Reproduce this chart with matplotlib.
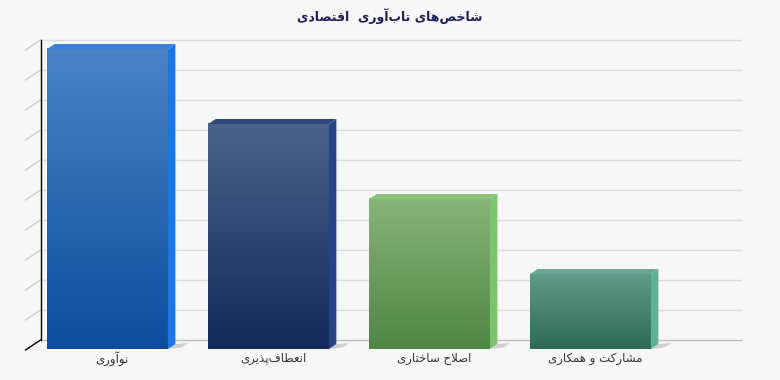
import numpy as np
import matplotlib.pyplot as plt
from matplotlib.patches import Polygon
from matplotlib.colors import LinearSegmentedColormap

# data
categories = ['نوآوری', 'انعطاف‌پذیری', 'اصلاح ساختاری', 'مشارکت و همکاری']
values = [10.0, 7.5, 5.0, 2.5]
title = 'شاخص‌های تاب‌آوری  اقتصادی'

grad_top = ['#4a84c6', '#4b6288', '#88b47a', '#609a88']
grad_bot = ['#0b4c9c', '#12295a', '#4f8644', '#2d6b56']
side_col = ['#1c78e0', '#24448a', '#7cc46e', '#5db394']
topf_col = ['#3c80d4', '#2f4a78', '#8cc47c', '#6aa895']


# --- tiny persian shaper (matplotlib has no complex text layout) ---
FORMS = {
    'ا': ('\uFE8D', '\uFE8E', None, None),
    'آ': ('\uFE81', '\uFE82', None, None),
    'ب': ('\uFE8F', '\uFE90', '\uFE91', '\uFE92'),
    'پ': ('\uFB56', '\uFB57', '\uFB58', '\uFB59'),
    'ت': ('\uFE95', '\uFE96', '\uFE97', '\uFE98'),
    'ح': ('\uFEA1', '\uFEA2', '\uFEA3', '\uFEA4'),
    'خ': ('\uFEA5', '\uFEA6', '\uFEA7', '\uFEA8'),
    'د': ('\uFEA9', '\uFEAA', None, None),
    'ذ': ('\uFEAB', '\uFEAC', None, None),
    'ر': ('\uFEAD', '\uFEAE', None, None),
    'س': ('\uFEB1', '\uFEB2', '\uFEB3', '\uFEB4'),
    'ش': ('\uFEB5', '\uFEB6', '\uFEB7', '\uFEB8'),
    'ص': ('\uFEB9', '\uFEBA', '\uFEBB', '\uFEBC'),
    'ط': ('\uFEC1', '\uFEC2', '\uFEC3', '\uFEC4'),
    'ع': ('\uFEC9', '\uFECA', '\uFECB', '\uFECC'),
    'ف': ('\uFED1', '\uFED2', '\uFED3', '\uFED4'),
    'ق': ('\uFED5', '\uFED6', '\uFED7', '\uFED8'),
    'ک': ('\uFB8E', '\uFB8F', '\uFB90', '\uFB91'),
    'ل': ('\uFEDD', '\uFEDE', '\uFEDF', '\uFEE0'),
    'م': ('\uFEE1', '\uFEE2', '\uFEE3', '\uFEE4'),
    'ن': ('\uFEE5', '\uFEE6', '\uFEE7', '\uFEE8'),
    'ه': ('\uFEE9', '\uFEEA', '\uFEEB', '\uFEEC'),
    'و': ('\uFEED', '\uFEEE', None, None),
    'ی': ('\uFBFC', '\uFBFD', '\uFBFE', '\uFBFF'),
}
LAMALEF = {'ا': ('\uFEFB', '\uFEFC'), 'آ': ('\uFEF5', '\uFEF6')}


def dual(c):
    return c in FORMS and FORMS[c][2] is not None


def shape(s):
    out = []
    i = 0
    while i < len(s):
        c = s[i]
        if c not in FORMS:
            if c != '\u200c':
                out.append(c)
            i += 1
            continue
        prev_join = i > 0 and dual(s[i - 1])
        if c == 'ل' and i + 1 < len(s) and s[i + 1] in LAMALEF:
            out.append(LAMALEF[s[i + 1]][1 if prev_join else 0])
            i += 2
            continue
        next_join = dual(c) and i + 1 < len(s) and s[i + 1] in FORMS
        f = FORMS[c]
        if prev_join and next_join:
            out.append(f[3])
        elif prev_join:
            out.append(f[1])
        elif next_join:
            out.append(f[2])
        else:
            out.append(f[0])
        i += 1
    return ''.join(out)[::-1]


plt.rcParams['font.family'] = ['DejaVu Sans']

# 3d depth offset in data units
DX = 15 / 161.0
DV = 10 / 30.0
x_left, x_right = -0.5, 3.85
vmax = 10
bar_w = 0.75
d0, d1 = 0.1, 0.6


def P(x, v, d):
    return (x + d * DX, v + d * DV)


fig = plt.figure(figsize=(7.8, 3.8), dpi=100)
fig.patch.set_facecolor('#f7f7f7')
ax = fig.add_axes([0, 0, 1, 1])
ax.set_facecolor('#f7f7f7')
ax.axis('off')

# back wall grid + left wall lines
for v in range(0, vmax + 1):
    xa, ya = P(x_left, v, 1)
    xb, yb = P(x_right, v, 1)
    ax.plot([xa, xb], [ya, yb], color='#bdbdbd' if v == 0 else '#dcdcdc', lw=1, zorder=1)
    xf, yf = P(x_left, v, 0)
    if v > 0:
        ax.plot([xf, xa], [yf, ya], color='#d0d0d0', lw=1, zorder=1)

# axis edges
xa, ya = P(x_left, 0, 1)
xb, yb = P(x_left, vmax, 1)
ax.plot([xa, xb], [ya, yb], color='black', lw=1, zorder=2)
xf, yf = P(x_left, 0, 0)
ax.plot([xf, xa], [yf, ya], color='black', lw=1, zorder=2)

# bars
for i, val in enumerate(values):
    xl = i - bar_w / 2
    xr = i + bar_w / 2
    # floor shadow
    sh = [P(xr, 0, d0), P(xr + 0.07, 0, d0 + 0.15), P(xr + 0.07, 0, d1 + 0.1), P(xr, 0, d1)]
    ax.add_patch(Polygon(sh, closed=True, fc='#cfcfcf', ec='none', zorder=2))
    # front face gradient
    fx0, fy0 = P(xl, 0, d0)
    fx1, fy1 = P(xr, val, d0)
    cmap = LinearSegmentedColormap.from_list('g%d' % i, [grad_bot[i], grad_top[i]])
    grad = np.linspace(0, 1, 256).reshape(-1, 1)
    ax.imshow(grad, extent=[fx0, fx1, fy0, fy1], origin='lower', cmap=cmap,
              aspect='auto', zorder=3, interpolation='bilinear')
    # side face
    side = [P(xr, 0, d0), P(xr, 0, d1), P(xr, val, d1), P(xr, val, d0)]
    ax.add_patch(Polygon(side, closed=True, fc=side_col[i], ec='none', zorder=3))
    # top face
    top = [P(xl, val, d0), P(xr, val, d0), P(xr, val, d1), P(xl, val, d1)]
    ax.add_patch(Polygon(top, closed=True, fc=topf_col[i], ec='none', zorder=3))
    # category label
    lx, ly = P(i, 0, 0.4)
    ax.text(lx, -0.27, shape(categories[i]), ha='center', va='center',
            fontsize=8.5, color='#333333', zorder=4)

ax.set_xlim(-106 / 161.0, 674 / 161.0)
ax.set_ylim(-1.0, 350 / 30.0)

fig.text(0.5, 1 - 16 / 380.0, shape(title), ha='center', va='center',
         fontsize=9, fontweight='bold', color='#1f1f5c')

plt.savefig('out.png', dpi=100, facecolor=fig.get_facecolor())
plt.close('all')
